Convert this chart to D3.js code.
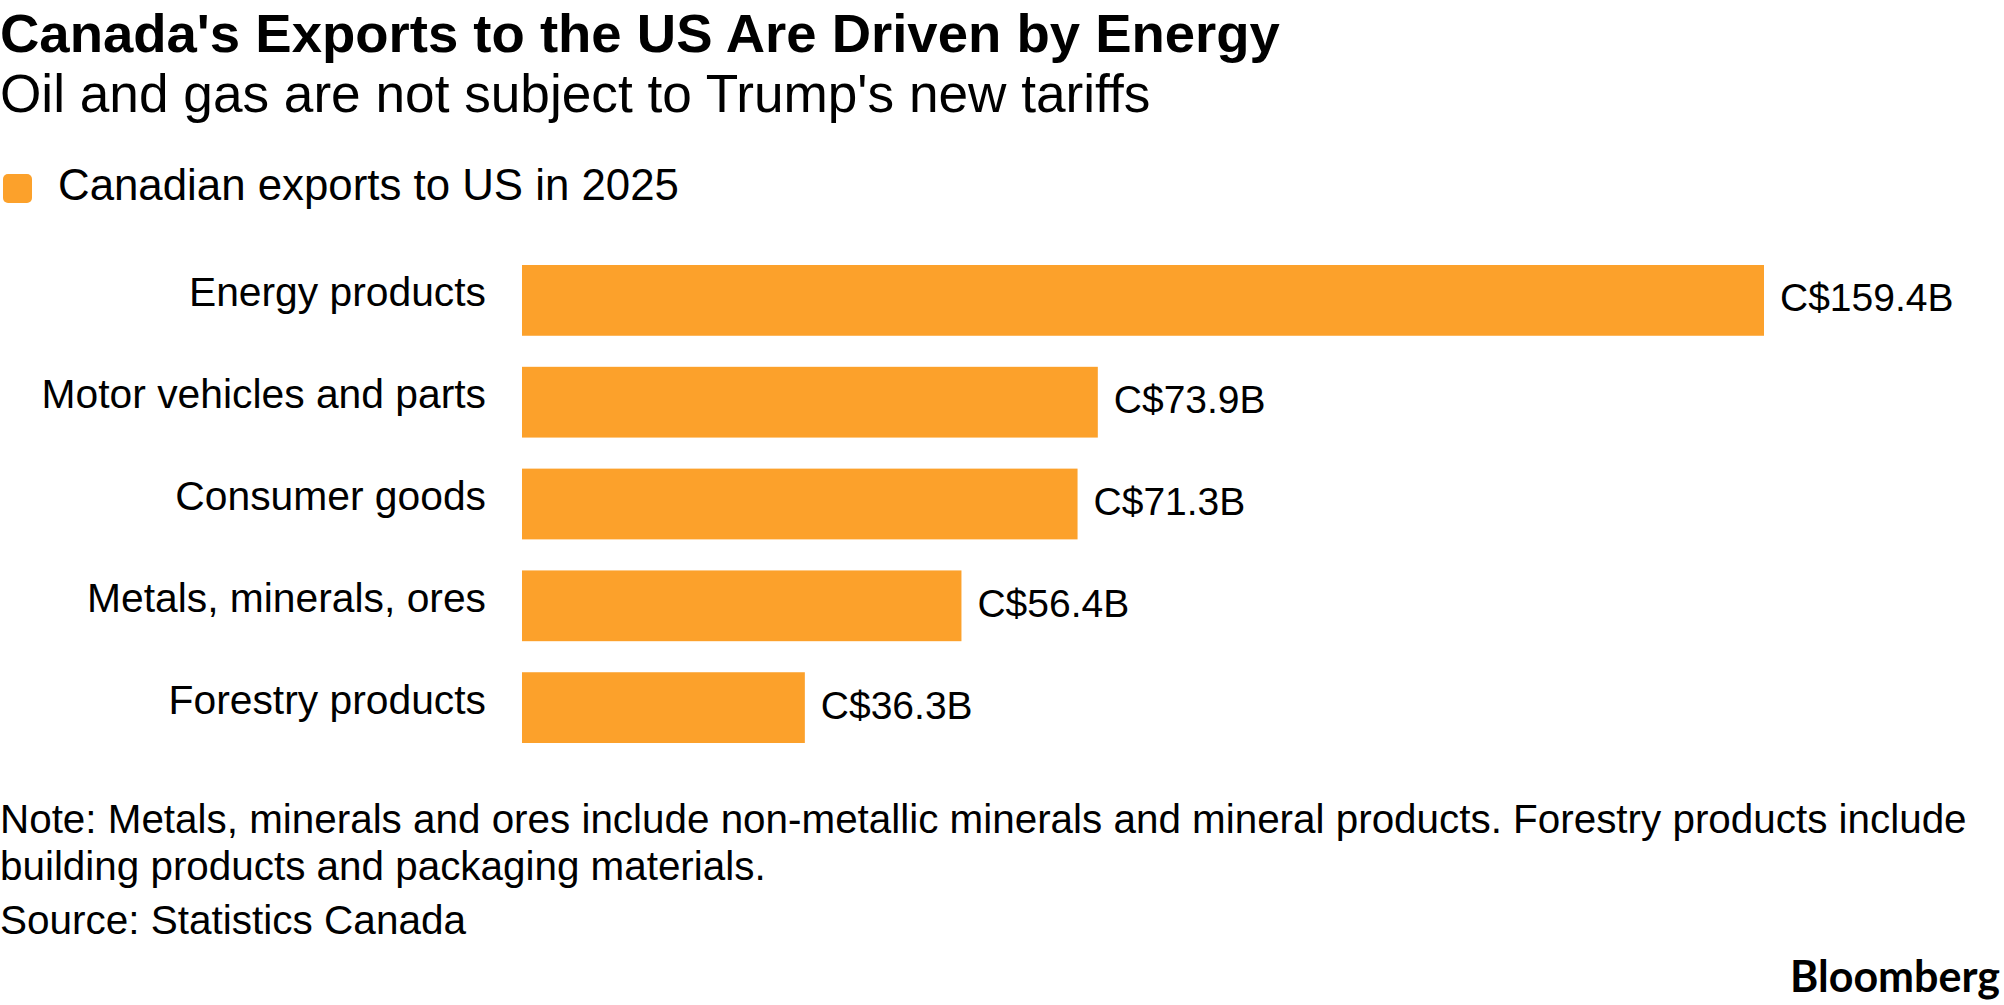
<!DOCTYPE html>
<html>
<head>
<meta charset="utf-8">
<script src="https://cdn.jsdelivr.net/npm/d3@7"></script>
<style>
  html, body { margin: 0; padding: 0; background: #fff; }
  svg { display: block; }
  text { font-family: "Liberation Sans", Arial, sans-serif; fill: #000; }
</style>
</head>
<body>
<svg id="chart"></svg>
<script>
const width = 2004;
const height = 1005;

// Chart data
const categories = [
  "Energy products",
  "Motor vehicles and parts",
  "Consumer goods",
  "Metals, minerals, ores",
  "Forestry products"
];
const values = [159.4, 73.9, 71.3, 56.4, 36.3];
const seriesName = "Canadian exports to US in 2025";

const title = "Canada's Exports to the US Are Driven by Energy";
const subtitle = "Oil and gas are not subject to Trump's new tariffs";
const noteLines = [
  "Note: Metals, minerals and ores include non-metallic minerals and mineral products. Forestry products include",
  "building products and packaging materials."
];
const source = "Source: Statistics Canada";

const barColor = "#fca12b";

const svg = d3.select("#chart")
  .attr("width", width)
  .attr("height", height);

// Scales
const x = d3.scaleLinear()
  .domain([0, d3.max(values)])
  .range([522, 1764]);

const y = d3.scaleBand()
  .domain(categories)
  .range([265, 743])
  .paddingInner(0.305)
  .paddingOuter(0);

const rows = categories.map((c, i) => ({ category: c, value: values[i] }));

// Header
svg.append("text")
  .attr("x", 0)
  .attr("y", 52)
  .attr("font-size", 54.5)
  .attr("font-weight", 700)
  .text(title);

svg.append("text")
  .attr("x", 0)
  .attr("y", 112)
  .attr("font-size", 53.2)
  .text(subtitle);

// Legend
svg.append("rect")
  .attr("x", 3)
  .attr("y", 174)
  .attr("width", 29)
  .attr("height", 29)
  .attr("rx", 5)
  .attr("fill", barColor);

svg.append("text")
  .attr("x", 58)
  .attr("y", 200)
  .attr("font-size", 43.8)
  .text(seriesName);

// Bars
svg.append("g")
  .selectAll("rect")
  .data(rows)
  .join("rect")
  .attr("x", x(0))
  .attr("y", d => y(d.category))
  .attr("width", d => x(d.value) - x(0))
  .attr("height", y.bandwidth())
  .attr("fill", barColor);

// Category labels
svg.append("g")
  .selectAll("text")
  .data(rows)
  .join("text")
  .attr("x", x(0) - 36)
  .attr("y", d => y(d.category) + y.bandwidth() / 2 + 6)
  .attr("text-anchor", "end")
  .attr("font-size", 40.8)
  .text(d => d.category);

// Value labels
svg.append("g")
  .selectAll("text")
  .data(rows)
  .join("text")
  .attr("x", d => x(d.value) + 16)
  .attr("y", d => y(d.category) + y.bandwidth() / 2 + 11)
  .attr("font-size", 39)
  .text(d => "C$" + d.value.toFixed(1) + "B");

// Footer
svg.append("g")
  .selectAll("text")
  .data(noteLines)
  .join("text")
  .attr("x", 0)
  .attr("y", (d, i) => 833 + i * 47)
  .attr("font-size", 40.4)
  .text(d => d);

svg.append("text")
  .attr("x", 0)
  .attr("y", 934)
  .attr("font-size", 40.5)
  .text(source);

svg.append("text")
  .attr("x", 2000)
  .attr("y", 992)
  .attr("text-anchor", "end")
  .attr("font-size", 43)
  .attr("font-weight", 700)
  .style("font-family", "Lato, 'Noto Sans', sans-serif")
  .text("Bloomberg");
</script>
</body>
</html>
